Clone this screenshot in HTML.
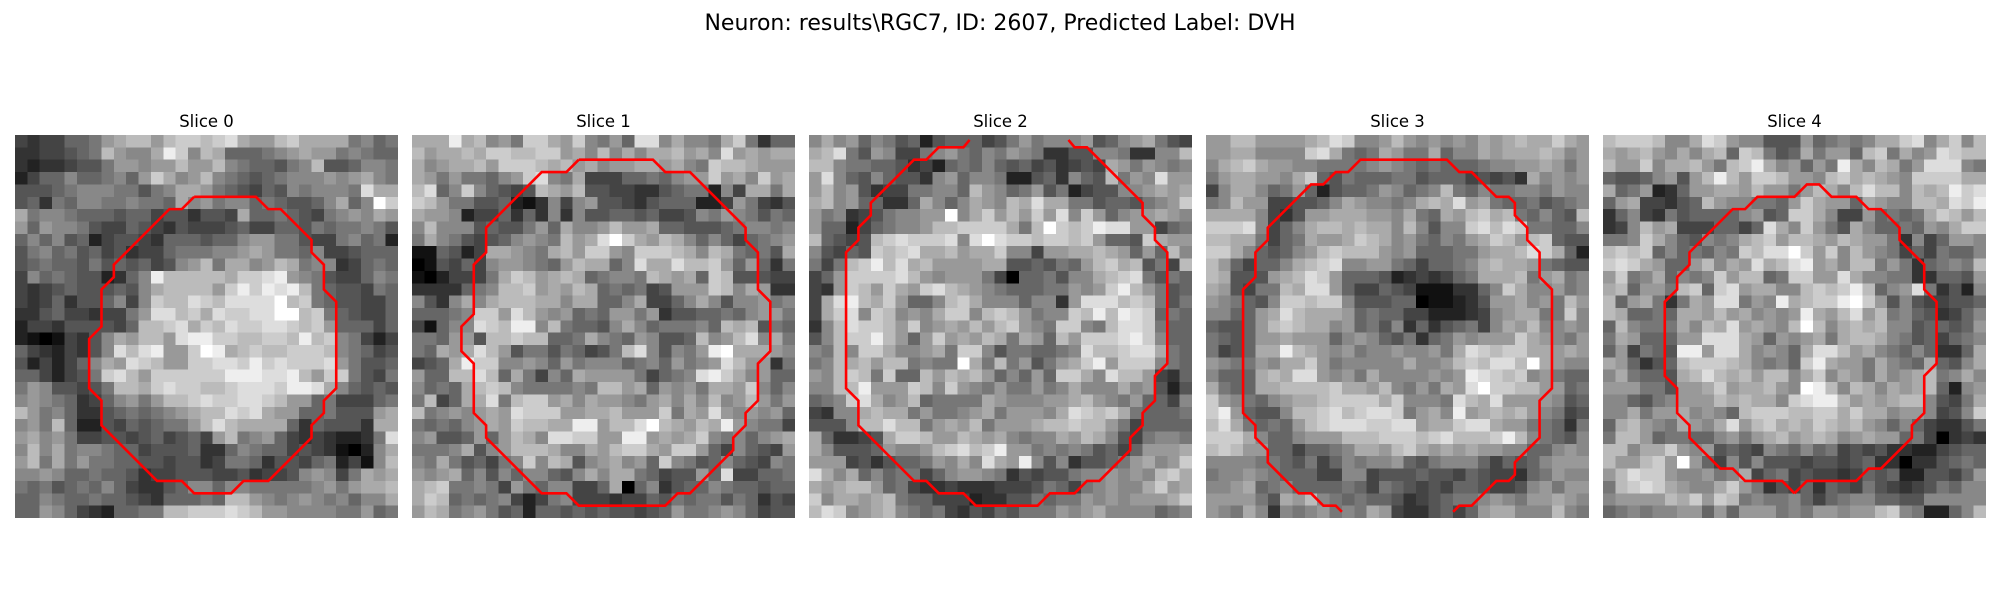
<!DOCTYPE html>
<html><head><meta charset="utf-8"><style>
html,body{margin:0;padding:0;background:#fff;width:2000px;height:600px;overflow:hidden;position:relative;font-family:"DejaVu Sans","Liberation Sans",sans-serif;}
#title{position:absolute;left:0;width:2000px;top:11px;text-align:center;font-size:22px;color:#000;}
.ptitle{position:absolute;width:383px;text-align:center;font-size:16.5px;top:112px;color:#000;}
svg.panel{position:absolute;top:135px;width:383px;height:383px;}
</style></head><body>
<div id="title">Neuron: results\RGC7, ID: 2607, Predicted Label: DVH</div>
<div id="root"></div>
<script>
const sliceNames = ["Slice 0","Slice 1","Slice 2","Slice 3","Slice 4"];
const panelLeft = [15,412,809,1206,1603];
const grid0 = [
"43446679abb9bccbcda99bcaaaa7867","3344567b988aec8ba666789a9978766","3233455799899b99b876657 8b556887 6",
"2466866786 9ca89b87 65678889 89a87","5556788877 578aa976 54658788 87 da","5637688778 776a8978 86765568a6 8fc",
"a788766656 6455355 4a66765478 98a9","9698875446 5435444 5644665767 787 5","6868562455 4366656 6899775447 8672",
"5786756453 4467778 89a9776844 5666","5676657565 6458 9b7aa89ba78834 676","4867655236 8ebbbbba ccde98754 4687",
"4345655565 8abbbb9ce cedeb765 5476","4346355684 8cbbdcbd dddfbc76 5544 6","3356443447 9ddbcadc cddffbc7 6544 6",
"2443555546 bbcdacbd ccddcbc9 6664 65","2101435 8a9bb9deec cbbccbebc 87424","6432435 8dbde99cfe abcbbcccb 87645",
"5242468 a9dcb99ccd dcecdcccd 97556","6642457 cdb9cccccc eeeddeb9c c7547","7985545 7bbacdccbb cdddceeda 86565",
"8987634 6897 9bbcdccd dcb99674 4467","b978633 5676789abb dcda996675 559a","897b622 5465677 9bdbaaaa63655 53aa",
"9a89744 5545645 649b789643432 237d","8b8a788 7664555 6336876645431 028a","9b7a797 7665545 5347763554672 418b",
"8898667 6653445 5544534458984 7a9a","7675676 8643356 8868877777897 9aab","6687667 6654366 676bb98789878 688a",
"6698643 2667 7bbcccdcb99888877 967"];
const grid1 = [
"aaaeab897cca9c8796dd8a887ac736","b9aabaccbbcc9a8b8a8aab9a8d9a9a","a89aab9cccbab9a899aa9a87cbba99",
"a97977689cd87a4446676899c9a8c9a","bd68c86545ba9b554433567728 4aa7a","cb977556213848955435666224974356",
"a99824463638385566564458798757 6","8b8885655796a889b99a665556788 78","7a87545689 87b9adfca9ba868646789",
"1165 24aa987ab9cc98cccba8ba7675a","0154648998769baa68daadbbc969637","1024447acb9aba678 87ba9a6cb5554",
"3333678bbc9a9ba6767459 99cb8a93","8538a8abbbaa8aa668a44 68a8588978","6667 8cc9db989676997 9355667689 97",
"4168 8dcbee8b7665 8a86777 86bab576","7769 95bbcbb667a87 698556b 89bd8a7","76a9adb957757645 7bd858 79efaaa98",
"456aecc889869788 867869 789db9937","966bbdb6a748 6a999974 678dec a896","8676abcb8777787bb9a6 98 97aa9c868",
"7b46aad7bcc9a8a998 79a8a8b89b979","b78989a9dccc99aab999c7a9d98989 6","7676 89a9cbbaaee9bbdfba9bae987 74",
"8955696 9ba8ddcc99ee9a9ac878689a","7778a58 9bbba88a9bcca9cc964865 49","87a7564 78c8ba589a896c875686548 7",
"989a685 8688658a8aa764559 6d44667","abc7787 49768844 6a068356687665 66","acb6767 842478444344657677576354",
"9ba7897 5626656565545697789864 55"];
const grid2 = [
"8a89687562566645797888956 89a7548","abd75984478976879873355887 338 8b","bb877665342676865645345 4a979878",
"9d86586553896887225638 65b798d99","9b89534477886b98679572 455889a9a","ab8966336a868a98badaa775 665789cf",
"97834578899f8ac9b9c9d8c9 689 9a98","966246788 9bbcccca7bfcbcedd994677 8","b654 5bcdcccd8dfdccbccbc9665ca9",
"8546 5cbcdaab9aac884 99aaba969 6b8","747bcebdab9999aa556576 9bcab574b8","469ccccdb9899974066758 8abcd7576",
"439cb9ca9cdba98766677 989ceb9756","4adeba c9668bca8886883 9dddbcb757","4acd8cb898acc8bcb9788 cbebedc676",
"38bdccb9c89a9b9bc987c c87bddc766","58bcceb969c9a9ba7a96b 9cccdec866","87b8cca889a7cc857766 78dbbcdda76",
"78bab9bb787 7fa7b795 79ace9ccc876","98bcb7c66b9bab968696c ca8dbb9436","88bbe999cb8c98797797 8a888a8952 5",
"678cda89b67777a9888 99ab987966 48","438 8abaa797789a7999 8adcbca7666 7","5558bbdbb79a9b799 9abbcbb97466 66",
"a6334 5accb99ba9a878 8a9ba854788 7","a8555 69889bcdbce9978 787564699 9a","9994535667 98a8da9e858355679a89c",
"da8a686774 6899873545 578898 98bca","a9abb96743 343334445 7647898 8ac9a","c8aa9ab766 444233557 677989899 9ac",
"bdc89ab876 743546577 7989a8888678"];
const grid3 = [
"99bb9999abdc889b98989 8a9abaaca9","99aa8888cda767a977a688a9aaaba89","8abca99887777898767666788 99a979",
"79aa998ac6576667756664545 3a8989","48aa8679625667986 78b76877 88798","78b99445568a98878aba d9a766756 78",
"aaaa84359 9aaa998a76a9bcab7 6865b","cccd8468abbabaa8b858 8cdbdc7766 8","bbaa7467a99acba89768 79acb9bc655",
"cca8656 89bcbbb98966 6779aabdca62","b9646 68abcd889976466 78abaa9765","ba5559abdc96665234 3467aaab79a78",
"a95477badd9644654111 3368ca88978","98765 8ccbcc8555660 11235 99a897b9","8866 9adbaaa967664422234 89aa77c8",
"6556 9bcbaa89675836356 748a9b8898","7656 99a9996898657367 98999ca9879 7","7456 aaeba98978898897 adcbcca a9a9",
"98779 8aac97888 88a889bcbddbfa988","866 6abadd989 7a888898 9edcbc8976","a766aabbbbcaa9b879 7a9dfccbb99 67",
"c98768 9aabcccca c888 7dbad99998 56","ce965 58bbcdbcddc79a8e9abab9874 5","bda767 69bcdddccdd9aacdda9977 637",
"cccA866899 9bbbcccbcdbbbceb876 58","bcb996646678aa9bca9a9a998866 898","8888776574 6878896 578886 4656899",
"788987666448845556554 654436798 8","889a678666676476 545466544589 79","9999 75a9b876766534 5677898799a98",
"987a838789787a94335646 9aa888b87"];
const grid4 = [
"bcccb88adc9885559678 78aacd8ac8b","a9ab98a8ab6cb756a799 6bc7a89dcbb","b99c8aab97bcea8969 7ea8ba79ddd87",
"6556895 9beb9ccb998bcaba98ccccaa9","a6792369 9aa9b997 9ba8bdbb8babecd","69a44356 b988776 9ca996a988bbadce",
"36843756 666895 6cca8449676 7acb9b","348b9a44 4664 6da8c975a866769 8acc","778ca865 878abc9bba9ba997 38469 98",
"bcbc6867 687cbddfc9c8b987 464766 8","cdca9669 b8a9dabde9a8bb79 736787b","9c78a687 8c9bb67cc99da887 7336659",
"ab699 7bc6cd9aa88bcbceb6 89d73528","b69a737 a9dd798eabccefc9 585445 56","ba66 76aa9b9a898 9ea9bd9b7 865346 8",
"6b877 7a8bad9a98bfb8abab8 856656 9","7a966 699ddda9698 9a7abba87 564678","694765 ee9dda898 6addb9a876 863 36a",
"a96356 bcccba878 6cea997a8 76a658a","8a7665 abdbab9bb8 ac8a97a89 ab78a8","99977 599ac9aab98 feb8ba8a9 ab628 9",
"886578 999bab aa8cdeeb9a9ab b8547a","88a799a 898 6bcccbbccacaa 899845 8c","6ab987a9 8ad9bcabacbab98 686433 57",
"7bb9677 6689 79ab9aba89a99 67403 43","bb8aac98 9565487 6867454533224 566","b99bc9f964 85855545545633033 5676",
"9bdcc98897 8a467454434656 2255469","7bcdca988a c973546365475434576 88","8999 9bac9cb787786 4678866558888 8",
"6787889969 699978799899bc872 268b"];
const grids = [grid0, grid1, grid2, grid3, grid4];

const contour0 = [[14,4.5],[19,4.5],[20,5.5],[21,5.5],[23.5,8],[23.5,9],[24.5,10],[24.5,12],[25.5,13],[25.5,20],[24.5,21],[24.5,22],[23.5,23],[23.5,24],[20,27.5],[18,27.5],[17,28.5],[14,28.5],[13,27.5],[11,27.5],[6.5,23],[6.5,21],[5.5,20],[5.5,16],[6.5,15],[6.5,12],[7.5,11],[7.5,10],[12,5.5],[13,5.5],[14,4.5]];
const contour1 = [[13,1.5],[19,1.5],[20,2.5],[22,2.5],[26.5,7],[26.5,8],[27.5,9],[27.5,12],[28.5,13],[28.5,17],[27.5,18],[27.5,21],[26.5,22],[26.5,23],[25.5,24],[25.5,25],[22,28.5],[21,28.5],[20,29.5],[13,29.5],[12,28.5],[10,28.5],[5.5,24],[5.5,23],[4.5,22],[4.5,18],[3.5,17],[3.5,15],[4.5,14],[4.5,10],[5.5,9],[5.5,7],[10,2.5],[12,2.5],[13,1.5]];
const contour2 = [[12.5,-0.1],[12,0.5],[10,0.5],[9,1.5],[8,1.5],[4.5,5],[4.5,6],[3.5,7],[3.5,8],[2.5,9],[2.5,20],[3.5,21],[3.5,23],[8,27.5],[9,27.5],[10,28.5],[12,28.5],[13,29.5],[18,29.5],[19,28.5],[21,28.5],[22,27.5],[23,27.5],[25.5,25],[25.5,24],[26.5,23],[26.5,22],[27.5,21],[27.5,19],[28.5,18],[28.5,9],[27.5,8],[27.5,7],[26.5,6],[26.5,5],[22,0.5],[21,0.5],[20.5,-0.1]];
const contour3 = [[10.5,30],[10,29.5],[9,29.5],[8,28.5],[7,28.5],[4.5,26],[4.5,25],[3.5,24],[3.5,23],[2.5,22],[2.5,12],[3.5,11],[3.5,9],[4.5,8],[4.5,7],[8,3.5],[9,3.5],[10,2.5],[11,2.5],[12,1.5],[19,1.5],[20,2.5],[21,2.5],[23,4.5],[24,4.5],[24.5,5],[24.5,6],[25.5,7],[25.5,8],[26.5,9],[26.5,11],[27.5,12],[27.5,20],[26.5,21],[26.5,24],[24.5,26],[24.5,27],[24,27.5],[23,27.5],[21,29.5],[20,29.5],[19.5,30]];
const contour4 = [[15,28.5],[16,27.5],[20,27.5],[21,26.5],[22,26.5],[24.5,24],[24.5,23],[25.5,22],[25.5,19],[26.5,18],[26.5,13],[25.5,12],[25.5,10],[23.5,8],[23.5,7],[22,5.5],[21,5.5],[20,4.5],[18,4.5],[17,3.5],[16,3.5],[15,4.5],[12,4.5],[11,5.5],[10,5.5],[6.5,9],[6.5,10],[5.5,11],[5.5,12],[4.5,13],[4.5,19],[5.5,20],[5.5,22],[6.5,23],[6.5,24],[9,26.5],[10,26.5],[11,27.5],[14,27.5],[15,28.5]];
const contours = [contour0, contour1, contour2, contour3, contour4];

const N = 31;
const NS = "http://www.w3.org/2000/svg";
const root = document.getElementById('root');
function rowVals(s){
  let t = s.replace(/\s/g,'');
  while (t.length < N) t += t[t.length-1];
  return t.slice(0,N).split('').map(ch => parseInt(ch,16));
}
for (let p = 0; p < grids.length; p++) {
  const t = document.createElement('div');
  t.className = 'ptitle';
  t.style.left = panelLeft[p] + 'px';
  t.textContent = sliceNames[p];
  
  
  root.appendChild(t);
  const svg = document.createElementNS(NS, 'svg');
  svg.setAttribute('class', 'panel');
  svg.setAttribute('viewBox', '0 0 31 31');
  svg.setAttribute('preserveAspectRatio', 'none');
  svg.style.left = panelLeft[p] + 'px';
  
  
  const g = document.createElementNS(NS, 'g');
  g.setAttribute('shape-rendering', 'crispEdges');
  for (let r = 0; r < N; r++) {
    const vals = rowVals(grids[p][Math.min(r, grids[p].length-1)]);
    for (let c = 0; c < N; c++) {
      const v = Math.round(vals[c] * 17);
      const rc = document.createElementNS(NS, 'rect');
      rc.setAttribute('x', c); rc.setAttribute('y', r);
      rc.setAttribute('width', 1.02); rc.setAttribute('height', 1.02);
      rc.setAttribute('fill', `rgb(${v},${v},${v})`);
      
      
      g.appendChild(rc);
    }
  }
  svg.appendChild(g);
  const pl = document.createElementNS(NS, 'polyline');
  pl.setAttribute('points', contours[p].map(q => (q[0]+0.5)+','+(q[1]+0.5)).join(' '));
  pl.setAttribute('fill', 'none');
  pl.setAttribute('stroke', '#ff0000');
  pl.setAttribute('stroke-width', '2.6');
  pl.setAttribute('vector-effect', 'non-scaling-stroke');
  pl.setAttribute('stroke-linejoin', 'miter');
  
  
  svg.appendChild(pl);
  root.appendChild(svg);
}
</script>
</body></html>
